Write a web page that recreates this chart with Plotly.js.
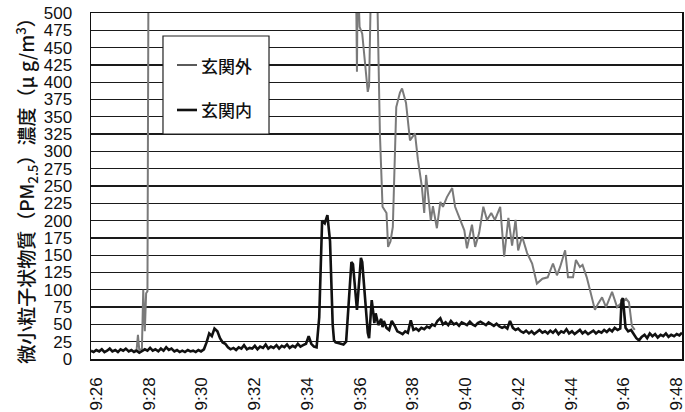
<!DOCTYPE html>
<html>
<head>
<meta charset="utf-8">
<script src="https://cdn.plot.ly/plotly-3.0.1.min.js"></script>
<style>html,body{margin:0;padding:0;background:#fff;}#chart{width:685px;height:412px;}</style>
</head>
<body>
<div id="chart"></div>
<script>
// x values are minutes after 9:00
var tickVals = [26, 28, 30, 32, 34, 36, 38, 40, 42, 44, 46, 48];
var tickLabels = ['9:26','9:28','9:30','9:32','9:34','9:36','9:38','9:40','9:42','9:44','9:46','9:48'];
var yTickVals = [0,25,50,75,100,125,150,175,200,225,250,275,300,325,350,375,400,425,450,475,500];

var seriesNames = ['玄関外', '玄関内'];
var seriesColors = ['#7a7a7a', '#111111'];
var seriesWidths = [2, 2.6];

// 玄関外 (outside) – values above 500 run off the top of the chart
var outsideX = [27.43,27.53,27.58,27.63,27.73,27.78,27.84,27.89,27.94,27.99,28.04,29.87,31.91,33.95,35.78,35.84,
  35.88,35.91,35.98,36.08,36.19,36.29,36.34,36.44,36.59,36.69,36.75,36.85,37.00,37.06,37.15,37.24,37.37,37.51,37.59,37.74,37.89,
  38.08,38.19,38.34,38.43,38.50,38.61,38.68,38.76,38.91,39.04,39.14,39.29,39.49,39.60,39.79,39.95,40.05,40.24,40.36,40.51,
  40.67,40.81,40.97,41.11,41.31,41.46,41.62,41.76,41.89,41.99,42.14,42.33,42.52,42.70,42.91,43.11,43.31,43.46,43.58,43.77,
  43.88,44.07,44.18,44.33,44.43,44.59,44.71,44.90,45.02,45.17,45.32,45.55,45.74,45.93,46.08,46.19,46.30,46.41];
var outsideY = [11,14,35,13,15,100,40,95,98,700,800,900,900,900,800,600,
  415,560,480,470,430,386,395,600,650,450,326,220,211,162,170,191,364,385,391,370,316,
  326,288,249,211,266,220,200,221,189,227,220,234,247,220,201,186,160,194,162,182,
  220,201,211,201,220,148,204,164,201,157,177,153,138,109,116,118,138,121,133,157,
  118,118,143,133,136,118,100,71,80,89,75,97,75,82,87,82,48,42];

// 玄関内 (inside)
var insideX = [25.80,25.90,26.00,26.11,26.21,26.31,26.41,26.51,26.61,26.72,26.82,26.92,27.02,27.12,27.23,27.33,27.43,27.53,27.63,27.73,
  27.84,27.94,28.04,28.14,28.24,28.35,28.45,28.55,28.65,28.75,28.85,28.96,29.06,29.16,29.26,29.36,29.47,29.57,29.67,29.77,
  29.87,29.97,30.08,30.18,30.28,30.38,30.48,30.59,30.69,30.79,30.89,30.99,31.09,31.20,31.30,31.40,31.50,31.60,31.71,31.81,
  31.91,32.01,32.11,32.21,32.32,32.42,32.52,32.62,32.72,32.83,32.93,33.03,33.13,33.23,33.33,33.44,33.54,33.64,33.74,33.84,
  33.95,34.05,34.15,34.25,34.35,34.45,34.51,34.56,34.66,34.76,34.86,34.91,34.96,35.01,35.07,35.17,35.27,35.37,35.47,35.57,
  35.67,35.73,35.78,35.88,35.98,36.03,36.08,36.19,36.29,36.34,36.44,36.49,36.54,36.59,36.69,36.80,36.85,36.90,37.00,37.10,
  37.20,37.31,37.41,37.51,37.61,37.71,37.81,37.92,38.02,38.12,38.22,38.32,38.43,38.53,38.63,38.73,38.83,38.93,39.04,39.14,
  39.24,39.34,39.44,39.55,39.65,39.75,39.85,39.95,40.05,40.16,40.26,40.36,40.46,40.56,40.67,40.77,40.87,40.97,41.07,41.17,
  41.28,41.38,41.48,41.58,41.68,41.79,41.89,41.99,42.09,42.19,42.29,42.40,42.50,42.60,42.70,42.80,42.91,43.01,43.11,43.21,
  43.31,43.41,43.52,43.62,43.72,43.82,43.92,44.03,44.13,44.23,44.33,44.43,44.53,44.64,44.74,44.84,44.94,45.04,45.15,45.25,
  45.35,45.45,45.55,45.65,45.76,45.86,45.91,45.96,46.06,46.16,46.27,46.37,46.47,46.57,46.67,46.78,46.88,46.98,47.08,
  47.18,47.28,47.39,47.49,47.59,47.69,47.79,47.90,48.00,48.10,48.20];
var insideY = [12,10,13,11,14,10,12,15,11,13,10,14,12,15,11,13,10,12,9,11,
  14,12,16,12,14,11,15,12,17,13,15,11,13,10,12,10,13,11,12,10,
  13,11,14,24,37,33,44,40,30,24,22,17,14,16,13,17,15,20,14,16,
  15,19,14,18,16,21,15,18,16,20,15,19,17,21,16,19,17,22,18,20,
  22,33,22,18,17,60,150,200,196,208,170,110,50,27,24,23,22,21,25,80,
  140,137,110,71,120,146,140,85,38,30,85,70,52,66,49,58,46,55,45,42,
  55,48,40,38,36,40,38,56,42,44,41,45,43,47,45,50,48,55,59,50,
  53,49,55,50,52,48,53,51,49,54,50,48,52,54,51,49,53,50,48,51,
  47,45,47,44,55,45,42,44,40,38,41,37,40,36,39,42,38,40,37,41,
  38,42,36,40,38,43,37,40,36,39,42,37,40,36,38,41,37,40,38,42,
  39,43,40,45,42,44,85,88,45,40,42,36,30,27,32,35,30,37,33,
  36,31,35,33,37,32,35,33,36,34,38];

var traces = [
  {x: outsideX, y: outsideY, name: seriesNames[0], type: 'scatter', mode: 'lines',
   line: {color: seriesColors[0], width: seriesWidths[0]}},
  {x: insideX, y: insideY, name: seriesNames[1], type: 'scatter', mode: 'lines',
   line: {color: seriesColors[1], width: seriesWidths[1]}}
];

// legend box drawn as shapes + text annotations (paper coordinates)
var legBox = {x0: 0.1218, x1: 0.3012, y0: 0.6503, y1: 0.9335};
var legRows = [0.8497, 0.7197];
var shapes = [{type: 'rect', xref: 'paper', yref: 'paper', x0: legBox.x0, x1: legBox.x1, y0: legBox.y0, y1: legBox.y1,
  fillcolor: '#fff', line: {color: '#222', width: 1.2}, layer: 'above'}];
var annotations = [];
seriesNames.forEach(function (n, i) {
  shapes.push({type: 'line', xref: 'paper', yref: 'paper', x0: 0.1455, x1: 0.1794, y0: legRows[i], y1: legRows[i],
    line: {color: i === 0 ? '#5a5a5a' : '#111', width: i === 0 ? 2 : 2.6}, layer: 'above'});
  annotations.push({xref: 'paper', yref: 'paper', x: 0.1827, y: legRows[i], xanchor: 'left', yanchor: 'middle',
    text: n, showarrow: false, font: {family: 'Noto Sans CJK JP', size: 17, color: '#111', weight: 500}});
});

var layout = {
  width: 685, height: 412,
  margin: {l: 91, r: 3, t: 13, b: 53, pad: 0},
  paper_bgcolor: '#fff', plot_bgcolor: '#fff',
  showlegend: false,
  shapes: shapes,
  annotations: annotations,
  xaxis: {range: [25.8, 48.2], tickvals: tickVals, ticktext: tickLabels, tickangle: -90,
    showgrid: false, zeroline: false, showline: true, mirror: true, linecolor: '#111', linewidth: 1.5,
    ticks: '', ticklabelstandoff: 10, ticklabeloverflow: 'allow',
    tickfont: {family: 'Liberation Sans, Arial', size: 17, color: '#111'}},
  yaxis: {range: [0, 500], tickvals: yTickVals, ticktext: yTickVals.map(String),
    showgrid: true, gridcolor: '#1a1a1a', gridwidth: 1.3, zeroline: false,
    showline: true, mirror: true, linecolor: '#111', linewidth: 1.5,
    ticks: '', ticklabelstandoff: 14, ticklabeloverflow: 'allow',
    tickfont: {family: 'Liberation Sans, Arial', size: 17, color: '#111'},
    title: {text: '微小粒子状物質（PM<sub>2.5</sub>）濃度（μ g/m<sup>3</sup>）', standoff: 4,
      font: {family: 'Noto Sans CJK JP', size: 19, color: '#111', weight: 500}}}
};

Plotly.newPlot('chart', traces, layout, {staticPlot: true, displayModeBar: false});
</script>
</body>
</html>
